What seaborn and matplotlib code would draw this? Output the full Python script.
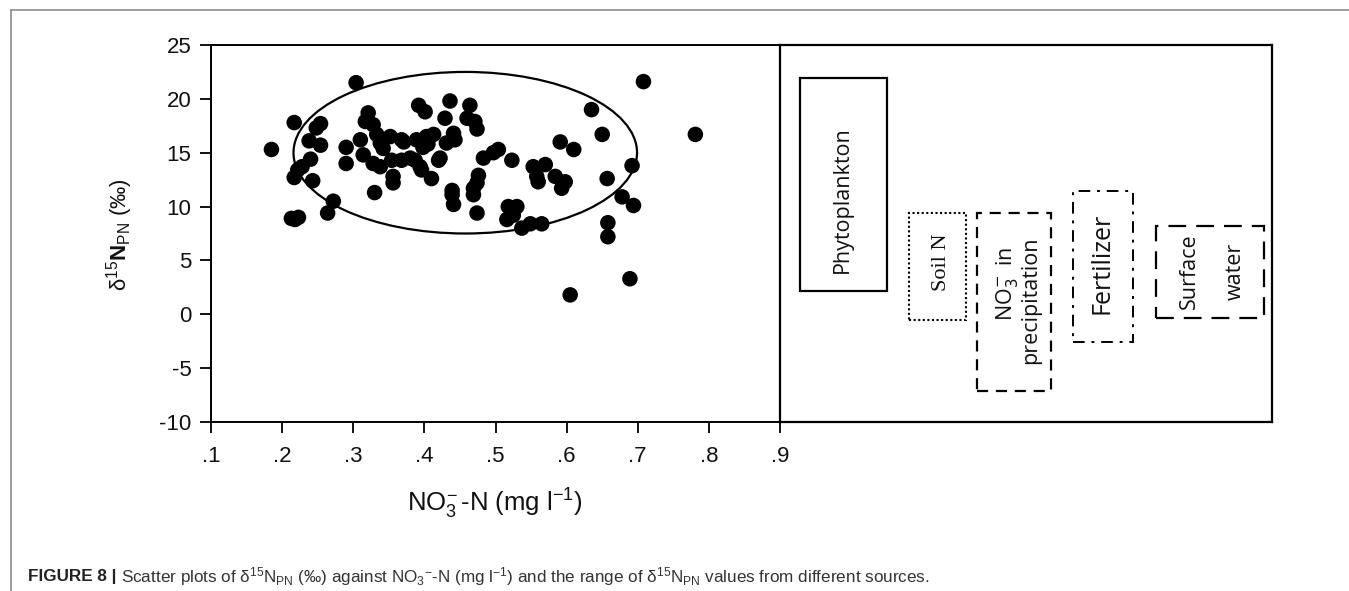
import matplotlib
matplotlib.use("Agg")
import matplotlib.pyplot as plt
from matplotlib.patches import Ellipse, Rectangle
from matplotlib.lines import Line2D
import seaborn as sns
import pandas as pd

# NO3--N concentration (mg l-1) and d15N of particulate nitrogen (permil)
nitrate = [0.185, 0.213, 0.218, 0.223, 0.217, 0.222, 0.228, 0.217, 0.238, 0.240,
           0.243, 0.248, 0.254, 0.254, 0.264, 0.272, 0.290, 0.290, 0.304, 0.310,
           0.314, 0.317, 0.321, 0.328, 0.328, 0.330, 0.333, 0.338, 0.338, 0.342,
           0.352, 0.354, 0.356, 0.356, 0.368, 0.368, 0.371, 0.380, 0.387, 0.389,
           0.392, 0.401, 0.394, 0.396, 0.398, 0.403, 0.405, 0.410, 0.413, 0.420,
           0.422, 0.429, 0.431, 0.436, 0.441, 0.443, 0.439, 0.439, 0.441, 0.460,
           0.464, 0.471, 0.474, 0.469, 0.469, 0.474, 0.476, 0.474, 0.483, 0.497,
           0.504, 0.518, 0.530, 0.516, 0.525, 0.537, 0.549, 0.565, 0.523, 0.553,
           0.570, 0.558, 0.560, 0.584, 0.598, 0.593, 0.591, 0.610, 0.605, 0.635,
           0.650, 0.657, 0.658, 0.658, 0.678, 0.689, 0.692, 0.694, 0.708, 0.781]
d15n_pn = [15.3, 8.9, 8.8, 9.0, 12.7, 13.4, 13.7, 17.8, 16.1, 14.4,
           12.4, 17.3, 17.7, 15.7, 9.4, 10.5, 15.5, 14.0, 21.5, 16.2,
           14.8, 17.9, 18.7, 17.6, 14.0, 11.3, 16.7, 15.9, 13.7, 15.4,
           16.5, 14.3, 12.8, 12.2, 16.2, 14.3, 16.0, 14.5, 14.3, 16.2,
           19.4, 18.8, 13.7, 13.4, 15.5, 16.5, 15.8, 12.6, 16.7, 14.3,
           14.5, 18.2, 15.9, 19.8, 16.8, 16.2, 11.5, 11.1, 10.2, 18.2,
           19.4, 17.9, 17.2, 11.7, 11.1, 12.2, 12.9, 9.4, 14.5, 15.0,
           15.3, 10.0, 10.0, 8.8, 9.2, 8.0, 8.4, 8.4, 14.3, 13.7,
           13.9, 12.8, 12.3, 12.8, 12.3, 11.7, 16.0, 15.3, 1.8, 19.0,
           16.7, 12.6, 8.5, 7.2, 10.9, 3.3, 13.8, 10.1, 21.6, 16.7]

# d15N ranges reported for the candidate nitrogen sources (permil)
sources = ["Phytoplankton", "Soil N", "NO3 in precipitation", "Fertilizer", "Surface water"]
source_low = [2.2, -0.5, -7.1, -2.6, -0.3]
source_high = [21.9, 9.4, 9.4, 11.4, 8.2]

x_ticks = [0.1, 0.2, 0.3, 0.4, 0.5, 0.6, 0.7, 0.8, 0.9]
x_tick_labels = [".1", ".2", ".3", ".4", ".5", ".6", ".7", ".8", ".9"]
y_ticks = [-10, -5, 0, 5, 10, 15, 20, 25]

sns.set_theme(style="ticks")
plt.rcParams["font.family"] = ["Liberation Sans", "DejaVu Sans"]
plt.rcParams["axes.unicode_minus"] = False
plt.rcParams["mathtext.fontset"] = "custom"
plt.rcParams["mathtext.rm"] = "Liberation Sans"
plt.rcParams["mathtext.it"] = "Liberation Sans:italic"
plt.rcParams["mathtext.bf"] = "Liberation Sans:bold"

W, H = 1349, 591
fig = plt.figure(figsize=(W / 100, H / 100), dpi=100)
fig.patch.set_facecolor("white")


def fx(px):
    return px / W


def fy(py):
    return 1 - py / H


# thin grey frame around the figure panel
fig.add_artist(Line2D([fx(11), 1.0], [fy(9.5), fy(9.5)], color="#8a8a8a", lw=1.2))
fig.add_artist(Line2D([fx(11), fx(11)], [0, fy(9.5)], color="#8a8a8a", lw=1.2))

left, right, top, bottom = 211, 780, 45, 422
ax = fig.add_axes([fx(left), fy(bottom), fx(right - left), fy(top) - fy(bottom)])
df = pd.DataFrame({"nitrate": nitrate, "d15n": d15n_pn})
sns.scatterplot(data=df, x="nitrate", y="d15n", ax=ax, color="black",
                edgecolor="none", s=125, legend=False, zorder=3)
ax.add_patch(Ellipse((0.4575, 15.0), 0.483, 15.0, fill=False,
                     edgecolor="black", lw=1.6, zorder=2))
ax.set_xlim(0.1, 0.9)
ax.set_ylim(-10, 25)
ax.set_xticks(x_ticks)
ax.set_xticklabels(x_tick_labels)
ax.set_yticks(y_ticks)
ax.set_xlabel("")
ax.set_ylabel("")
ax.tick_params(axis="both", direction="out", length=8, width=1.3,
               labelsize=16, color="black", labelcolor="#111111", pad=6)
ax.tick_params(axis="x", pad=9)
for sp in ax.spines.values():
    sp.set_visible(True)
    sp.set_color("black")
    sp.set_linewidth(1.4)

fig.text(fx(120), fy(235), r"δ$^{15}$$\mathbf{N}_{\mathrm{PN}}$ (‰)",
         rotation=90, ha="center", va="center", fontsize=16, color="#111111")
fig.text(fx(495), fy(504), r"NO$_3^{\!-}$-N (mg l$^{-1}$)",
         ha="center", va="center", fontsize=18.5, color="#111111")

# source range panel
rx0, rx1 = 780, 1272
rax = fig.add_axes([fx(rx0), fy(bottom), fx(rx1 - rx0), fy(top) - fy(bottom)])
rax.set_xlim(0, 1)
rax.set_ylim(-10, 25)
rax.set_xticks([])
rax.set_yticks([])
for sp in rax.spines.values():
    sp.set_visible(True)
    sp.set_color("black")
    sp.set_linewidth(1.6)

box_x = [(0.041, 0.217), (0.262, 0.378), (0.400, 0.551), (0.596, 0.718), (0.764, 0.984)]
box_style = ["-", (0, (1, 1.2)), (0, (5, 3.5)), (0, (6, 3.5, 1.5, 3.5)), (0, (8, 4.5))]
box_lw = [1.6, 1.5, 1.6, 1.4, 1.6]
for (x0, x1), lo, hi, ls, lw in zip(box_x, source_low, source_high, box_style, box_lw):
    rax.add_patch(Rectangle((x0, lo), x1 - x0, hi - lo, fill=False,
                            edgecolor="black", linestyle=ls, lw=lw))

lab_kw = dict(rotation=90, ha="center", va="center", color="#111111")
sans = ["Open Sans", "DejaVu Sans"]
rax.text(0.126, 10.6, sources[0], fontsize=15.5, family=sans, **lab_kw)
rax.text(0.329, 4.8, sources[1], fontsize=16, family=["Liberation Serif"], **lab_kw)
rax.text(0.461, 2.8, r"NO$_3^{\!-}$ in", fontsize=15.5, family=sans,
         math_fontfamily="dejavusans", **lab_kw)
rax.text(0.510, 1.3, "precipitation", fontsize=15.5, family=sans, **lab_kw)
rax.text(0.654, 4.7, sources[3], fontsize=18, family=sans, **lab_kw)
rax.text(0.833, 4.0, "Surface", fontsize=15.5, family=sans, **lab_kw)
rax.text(0.925, 4.0, "water", fontsize=15.5, family=sans, **lab_kw)

# figure caption
cap_y = fy(577)
t1 = fig.text(fx(28), cap_y, "FIGURE 8 |", fontsize=12.3, fontweight="bold",
              ha="left", va="center", color="#222222")
fig.canvas.draw()
bb = t1.get_window_extent()
fig.text(bb.x1 / W + fx(5), cap_y,
         r"Scatter plots of δ$^{15}$N$_{\mathrm{PN}}$ (‰) against NO$_3$$^{-}$-N "
         r"(mg l$^{-1}$) and the range of δ$^{15}$N$_{\mathrm{PN}}$ values from "
         r"different sources.",
         fontsize=12.3, ha="left", va="center", color="#333333")

fig.savefig("out.png", dpi=100)
